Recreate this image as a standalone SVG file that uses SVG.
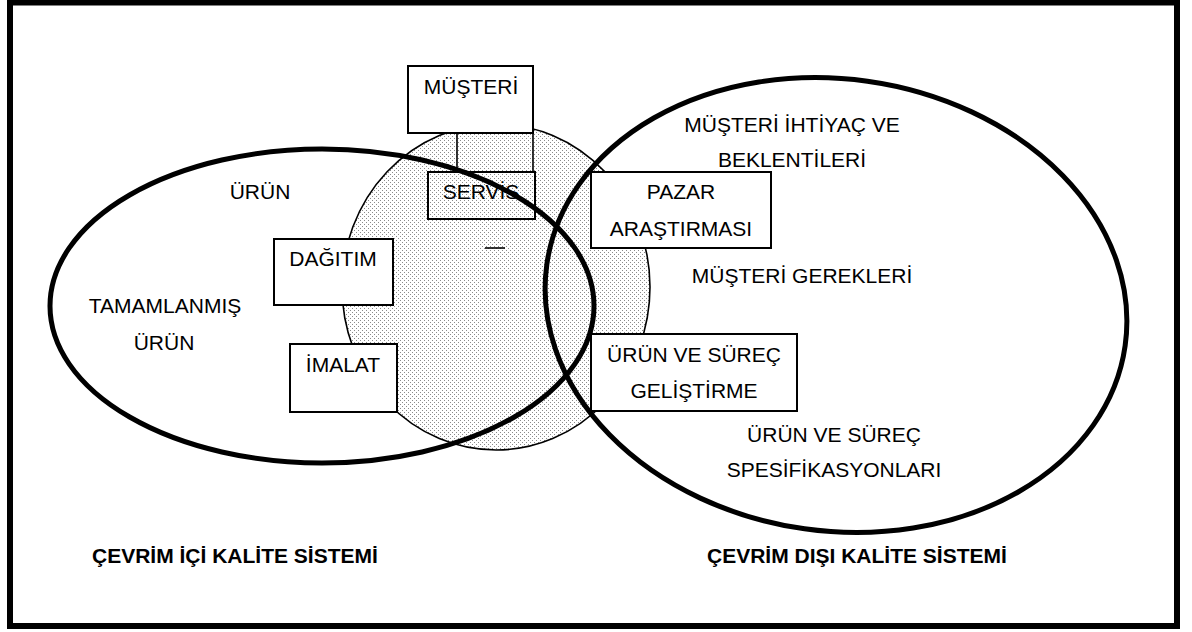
<svg xmlns="http://www.w3.org/2000/svg" width="1192" height="632" viewBox="0 0 1192 632">
<defs>
<pattern id="dots" width="4" height="4" patternUnits="userSpaceOnUse">
<rect width="4" height="4" fill="#ffffff"/>
<rect x="0" y="0" width="1" height="1" fill="#8a8a8a"/>
<rect x="2" y="2" width="1" height="1" fill="#8a8a8a"/>
</pattern>
</defs>
<style>
.t{font-family:"Liberation Sans",Arial,sans-serif;font-size:21px;fill:#000}
.c{text-anchor:middle}
.b{font-weight:bold}
.box{fill:#fff;stroke:#000;stroke-width:2}
.open{fill:none;stroke:#000;stroke-width:2}
.big{fill:none;stroke:#000;stroke-width:5}
.ln{stroke:#000;stroke-width:1.6;fill:none}
</style>
<rect x="0" y="0" width="1192" height="632" fill="#fff"/>
<rect x="10" y="2.5" width="1167" height="623.5" fill="none" stroke="#000" stroke-width="6"/>

<g id="servis-area">
<ellipse cx="496" cy="287" rx="154" ry="163" fill="url(#dots)" stroke="#000" stroke-width="1.6"/>
</g>

<g id="musteri">
<rect class="box" x="408" y="66" width="125" height="67"/>
<text class="t c" x="471" y="94">MÜŞTERİ</text>
</g>
<g id="dagitim">
<rect class="box" x="274" y="239" width="119" height="66"/>
<text class="t c" x="333" y="266">DAĞITIM</text>
</g>
<g id="imalat">
<rect class="box" x="290" y="344" width="107" height="68"/>
<text class="t c" x="343" y="372">İMALAT</text>
</g>
<g id="pazar">
<rect class="box" x="591" y="172" width="180" height="76"/>
<text class="t c" x="681" y="199">PAZAR</text>
<text class="t c" x="681" y="236">ARAŞTIRMASI</text>
</g>
<g id="gelistirme">
<rect class="box" x="591" y="334" width="206" height="77"/>
<text class="t c" x="694" y="362">ÜRÜN VE SÜREÇ</text>
<text class="t c" x="694" y="398">GELİŞTİRME</text>
</g>

<g id="cevrim-ici">
<ellipse class="big" cx="322" cy="306" rx="272" ry="157"/>
<text class="t c" x="260" y="199">ÜRÜN</text>
<text class="t c" x="165" y="313">TAMAMLANMIŞ</text>
<text class="t c" x="164" y="350">ÜRÜN</text>
<text class="t b" x="92" y="563">ÇEVRİM İÇİ KALİTE SİSTEMİ</text>
</g>

<g id="cevrim-disi">
<ellipse class="big" cx="836" cy="305" rx="292" ry="226" transform="rotate(8 836 305)"/>
<text class="t c" x="792" y="132">MÜŞTERİ İHTİYAÇ VE</text>
<text class="t c" x="792" y="167">BEKLENTİLERİ</text>
<text class="t c" x="802" y="283">MÜŞTERİ GEREKLERİ</text>
<text class="t c" x="834" y="442">ÜRÜN VE SÜREÇ</text>
<text class="t c" x="834" y="477">SPESİFİKASYONLARI</text>
<text class="t b" x="707" y="563">ÇEVRİM DIŞI KALİTE SİSTEMİ</text>
</g>

<g id="servis">
<rect class="open" x="428" y="172" width="107" height="47"/>
<text class="t c" x="481" y="199">SERVİS</text>
</g>

<g id="connectors">
<line class="ln" x1="457" y1="133" x2="457" y2="172"/>
<line class="ln" x1="533" y1="133" x2="533" y2="172"/>
<line class="ln" x1="485" y1="248" x2="505" y2="248"/>
</g>
</svg>
